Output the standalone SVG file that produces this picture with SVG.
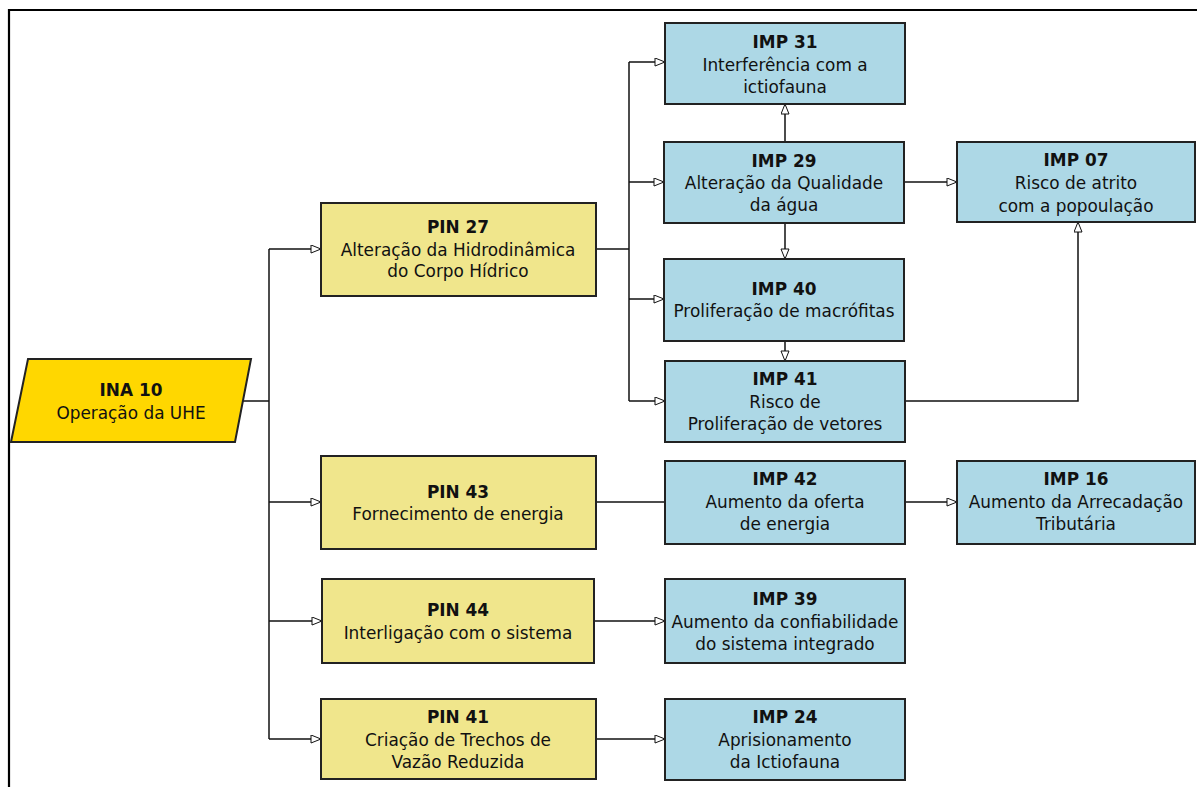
<svg xmlns="http://www.w3.org/2000/svg" width="1197" height="787" viewBox="0 0 1197 787">
  <style>
    .box { stroke: #222; stroke-width: 2; }
    .ina { fill: #FFD700; }
    .pin { fill: #F0E68C; }
    .imp { fill: #ADD8E6; }
    text { font-family: "DejaVu Sans", Verdana, sans-serif; font-size: 16.9px; fill: #111; text-anchor: middle; }
    .t { font-weight: bold; }
    .wire { fill: none; stroke: #111; stroke-width: 1.5; }
    .arr { marker-end: url(#head); }
  </style>
  <defs>
    <marker id="head" markerUnits="userSpaceOnUse" markerWidth="12" markerHeight="10" refX="11" refY="4.5" orient="auto">
      <path d="M1,0.5 L11,4.5 L1,8.5 Z" fill="#fff" stroke="#111" stroke-width="1"/>
    </marker>
  </defs>

  <rect width="1197" height="787" fill="#fff"/>
  <!-- page frame -->
  <path d="M9,787 V10 H1197" fill="none" stroke="#000" stroke-width="2.2"/>

  <g id="connectors">
    <path class="wire" d="M243,401 H269"/>
    <path class="wire" d="M269,249 V739"/>
    <path class="wire arr" d="M269,249 H321"/>
    <path class="wire arr" d="M269,502 H321"/>
    <path class="wire arr" d="M269,621 H322"/>
    <path class="wire arr" d="M269,739 H321"/>
    <path class="wire" d="M596,249 H629"/>
    <path class="wire" d="M629,62 V401"/>
    <path class="wire arr" d="M629,62 H665"/>
    <path class="wire arr" d="M629,182 H664"/>
    <path class="wire arr" d="M629,299 H664"/>
    <path class="wire arr" d="M629,401 H665"/>
    <path class="wire arr" d="M785,142 V104"/>
    <path class="wire arr" d="M785,223 V259"/>
    <path class="wire arr" d="M785,341 V361"/>
    <path class="wire arr" d="M904,182 H957"/>
    <path class="wire arr" d="M905,401 H1078 V222"/>
    <path class="wire" d="M596,502 H665"/>
    <path class="wire arr" d="M905,502 H957"/>
    <path class="wire arr" d="M594,621 H665"/>
    <path class="wire arr" d="M596,739 H665"/>
  </g>

  <g id="ina10">
    <polygon class="box ina" points="28,359 251,359 235,442 11,442"/>
    <text class="t" x="131" y="396">INA 10</text>
    <text x="131" y="419">Operação da UHE</text>
  </g>

  <g id="pin27">
    <rect class="box pin" x="321" y="203" width="275" height="93"/>
    <text class="t" x="458" y="233">PIN 27</text>
    <text x="458" y="256">Alteração da Hidrodinâmica</text>
    <text x="458" y="277">do Corpo Hídrico</text>
  </g>

  <g id="pin43">
    <rect class="box pin" x="321" y="456" width="275" height="93"/>
    <text class="t" x="458" y="498">PIN 43</text>
    <text x="458" y="520">Fornecimento de energia</text>
  </g>

  <g id="pin44">
    <rect class="box pin" x="322" y="579" width="272" height="84"/>
    <text class="t" x="458" y="616">PIN 44</text>
    <text x="458" y="639">Interligação com o sistema</text>
  </g>

  <g id="pin41">
    <rect class="box pin" x="321" y="699" width="275" height="80"/>
    <text class="t" x="458" y="723">PIN 41</text>
    <text x="458" y="746">Criação de Trechos de</text>
    <text x="458" y="768">Vazão Reduzida</text>
  </g>

  <g id="imp31">
    <rect class="box imp" x="665" y="23" width="240" height="81"/>
    <text class="t" x="785" y="48">IMP 31</text>
    <text x="785" y="71">Interferência com a</text>
    <text x="785" y="93">ictiofauna</text>
  </g>

  <g id="imp29">
    <rect class="box imp" x="664" y="142" width="240" height="81"/>
    <text class="t" x="784" y="167">IMP 29</text>
    <text x="784" y="189">Alteração da Qualidade</text>
    <text x="784" y="211">da água</text>
  </g>

  <g id="imp40">
    <rect class="box imp" x="664" y="259" width="240" height="82"/>
    <text class="t" x="784" y="295">IMP 40</text>
    <text x="784" y="317">Proliferação de macrófitas</text>
  </g>

  <g id="imp41">
    <rect class="box imp" x="665" y="361" width="240" height="81"/>
    <text class="t" x="785" y="385">IMP 41</text>
    <text x="785" y="408">Risco de</text>
    <text x="785" y="430">Proliferação de vetores</text>
  </g>

  <g id="imp07">
    <rect class="box imp" x="957" y="142" width="238" height="80"/>
    <text class="t" x="1076" y="166">IMP 07</text>
    <text x="1076" y="189">Risco de atrito</text>
    <text x="1076" y="212">com a popoulação</text>
  </g>

  <g id="imp42">
    <rect class="box imp" x="665" y="461" width="240" height="83"/>
    <text class="t" x="785" y="485">IMP 42</text>
    <text x="785" y="508">Aumento da oferta</text>
    <text x="785" y="530">de energia</text>
  </g>

  <g id="imp16">
    <rect class="box imp" x="957" y="461" width="238" height="83"/>
    <text class="t" x="1076" y="485">IMP 16</text>
    <text x="1076" y="508">Aumento da Arrecadação</text>
    <text x="1076" y="530">Tributária</text>
  </g>

  <g id="imp39">
    <rect class="box imp" x="665" y="579" width="240" height="84"/>
    <text class="t" x="785" y="605">IMP 39</text>
    <text x="785" y="628">Aumento da confiabilidade</text>
    <text x="785" y="650">do sistema integrado</text>
  </g>

  <g id="imp24">
    <rect class="box imp" x="665" y="699" width="240" height="81"/>
    <text class="t" x="785" y="723">IMP 24</text>
    <text x="785" y="746">Aprisionamento</text>
    <text x="785" y="768">da Ictiofauna</text>
  </g>
</svg>
